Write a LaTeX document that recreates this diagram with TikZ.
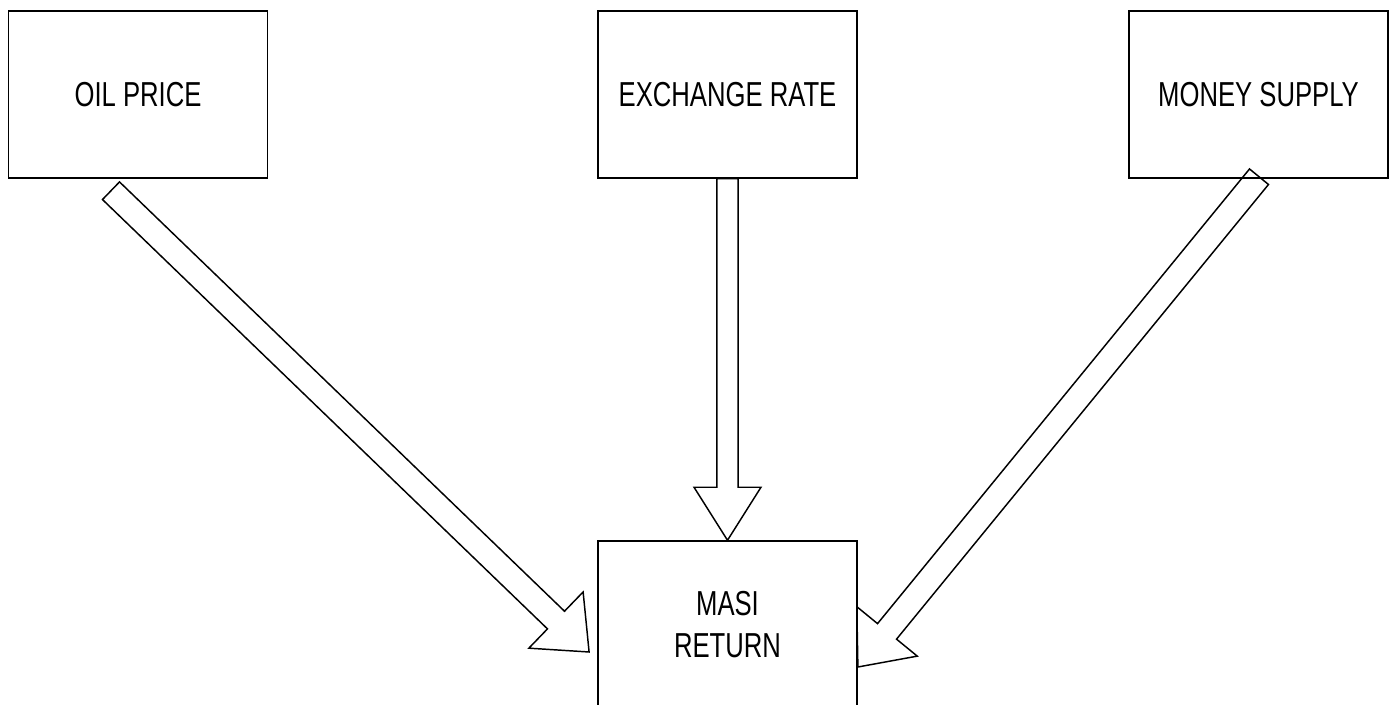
\documentclass[tikz,border=0pt]{standalone}
\usepackage{fontspec}
\newfontfamily\boxfont{Liberation Sans}[FakeStretch=0.74]
\usetikzlibrary{calc,positioning}

\tikzset{
  factor/.style={draw, line width=1.1pt, minimum width=194.5pt, minimum height=125.25pt,
    inner sep=0pt, align=center, font=\boxfont\fontsize{26}{32}\selectfont},
  fatline/.style={draw, line width=1.1pt, line join=miter},
}

% hollow block arrow: from, to, half shaft, half head, head length
\newcommand{\fatarrow}[5]{%
  \coordinate (fa-base) at ($(#2)!#5!(#1)$);
  \draw[fatline] ($(#1)!#3!90:(#2)$) -- ($(fa-base)!#3!90:(#2)$) -- ($(fa-base)!#4!90:(#2)$)
    -- (#2) -- ($(fa-base)!#4!-90:(#2)$) -- ($(fa-base)!#3!-90:(#2)$) -- ($(#1)!#3!-90:(#2)$) -- cycle;
}

\begin{document}
\begin{tikzpicture}[x=0.75pt,y=-0.75pt]
  \useasboundingbox (0,0) rectangle (1389,705);

  % factors
  \node[factor] (oil) at (138,94.5) {OIL PRICE};
  \node[factor] (exch) at (727.5,94.5) {EXCHANGE RATE};
  \node[factor] (money) at (1258.5,94.5) {MONEY SUPPLY};
  \node[factor] (masi) at (727.5,624.5) {MASI\\RETURN};

  % arrow ends
  \coordinate (oil-out) at ($(oil.south)+(-27,12)$);
  \coordinate (oil-in) at ($(masi.west)+(-8,27.5)$);
  \coordinate (money-out) at ($(money.south)+(0.5,-2)$);
  \coordinate (money-in) at ($(masi.east)+(0,42.5)$);

  \fatarrow{exch.south}{masi.north}{7.9pt}{25.1pt}{39.75pt}
  \fatarrow{oil-out}{oil-in}{9.2pt}{29.3pt}{34.5pt}
  \fatarrow{money-out}{money-in}{9.2pt}{29.3pt}{34.5pt}
\end{tikzpicture}
\end{document}
